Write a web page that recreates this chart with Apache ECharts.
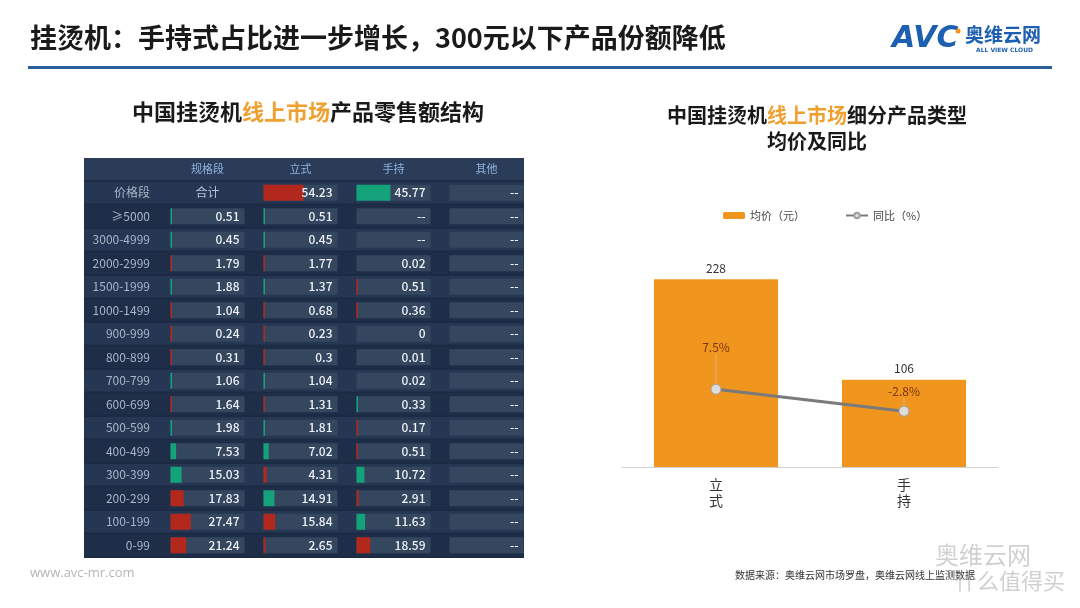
<!DOCTYPE html>
<html>
<head>
<meta charset="utf-8">
<script src="https://cdn.jsdelivr.net/npm/echarts@6/dist/echarts.min.js"></script>
<style>
  html, body { margin: 0; padding: 0; background: #fff; }
  #main { width: 1080px; height: 608px; }
</style>
</head>
<body>
<div id="main"></div>
<script>
// 左表：价格段 x 产品类型 零售额占比(%)
const rowLabels = ['价格段', '≥5000', '3000-4999', '2000-2999', '1500-1999', '1000-1499', '900-999', '800-899',
  '700-799', '600-699', '500-599', '400-499', '300-399', '200-299', '100-199', '0-99'];
const colLabels = ['规格段', '立式', '手持', '其他'];
const sizeShare = [null, 0.51, 0.45, 1.79, 1.88, 1.04, 0.24, 0.31, 1.06, 1.64, 1.98, 7.53, 15.03, 17.83, 27.47, 21.24];
const standShare = [54.23, 0.51, 0.45, 1.77, 1.37, 0.68, 0.23, 0.3, 1.04, 1.31, 1.81, 7.02, 4.31, 14.91, 15.84, 2.65];
const handShare = [45.77, null, null, 0.02, 0.51, 0.36, 0, 0.01, 0.02, 0.33, 0.17, 0.51, 10.72, 2.91, 11.63, 18.59];
const otherShare = [null, null, null, null, null, null, null, null, null, null, null, null, null, null, null, null];
// g = 上升(绿), r = 下降(红)
const sizeTrend = ['', 'g', 'g', 'r', 'g', 'r', 'r', 'r', 'g', 'r', 'g', 'g', 'g', 'r', 'r', 'r'];
const standTrend = ['r', 'g', 'g', 'r', 'g', 'r', 'r', 'r', 'g', 'r', 'g', 'g', 'r', 'g', 'r', 'r'];
const handTrend = ['g', '', '', '', 'r', 'r', '', '', '', 'g', 'r', 'r', 'g', 'r', 'g', 'r'];

// 右图：细分产品类型均价及同比
const typeNames = ['立式', '手持'];
const avgPrice = [228, 106];
const yoy = [7.5, -2.8];

const cols = [sizeShare, standShare, handShare, otherShare];
const trends = [sizeTrend, standTrend, handTrend, otherShare.map(() => '')];
const cellData = [];
cols.forEach((arr, c) => {
  arr.forEach((v, r) => {
    cellData.push([c, r, v, trends[c][r]]);
  });
});

const myChart = echarts.init(document.getElementById('main'));
const cjk = '"Noto Sans CJK SC", "Noto Sans", sans-serif';

function renderCell(params, api) {
  const item = cellData[params.dataIndex];
  const c = item[0];
  const r = item[1];
  const v = item[2];
  const t = item[3];
  const center = api.coord([c, r]);
  const size = api.size([1, 1]);
  const w = 74;
  const h = size[1] * 0.68;
  const x0 = center[0] - w / 2;
  const y0 = center[1] - h / 2;
  const children = [];
  if (c === 0) {
    // 行底纹
    children.push({
      type: 'rect',
      shape: { x: 84, y: center[1] - size[1] / 2 + 1, width: 440, height: size[1] - 2 },
      style: { fill: r % 2 === 0 ? '#263753' : '#1f2e48' },
      z2: 0
    });
  }
  if (c === 0 && r === 0) {
    children.push({
      type: 'text',
      style: { text: '合计', x: center[0], y: center[1], align: 'center', verticalAlign: 'middle',
        fill: '#b8c3d3', font: '12px ' + cjk },
      z2: 3
    });
    return { type: 'group', children: children };
  }
  children.push({
    type: 'rect',
    shape: { x: x0, y: y0, width: w, height: h },
    style: { fill: '#35465f' },
    z2: 1
  });
  if (v != null && t) {
    const bw = Math.max(1.5, w * v / 100);
    children.push({
      type: 'rect',
      shape: { x: x0, y: y0, width: bw, height: h },
      style: { fill: t === 'g' ? '#14a27a' : '#b3281c' },
      z2: 2
    });
  }
  children.push({
    type: 'text',
    style: { text: v == null ? '--' : String(v), x: x0 + w - 5, y: center[1], align: 'right',
      verticalAlign: 'middle', fill: '#eef2f7', font: '500 12px ' + cjk },
    z2: 3
  });
  return { type: 'group', children: children };
}

const option = {
  animation: false,
  backgroundColor: '#ffffff',
  graphic: [
    { type: 'text', left: 30, top: 24, style: { text: '挂烫机：手持式占比进一步增长，300元以下产品份额降低',
      font: 'bold 27px ' + cjk, fill: '#1a1a1a' } },
    { type: 'rect', shape: { x: 28, y: 66, width: 1024, height: 3 }, style: { fill: '#2c5f9a' } },
    { type: 'text', left: 892, top: 24, style: { text: 'AVC', font: 'italic bold 30px "DejaVu Sans", sans-serif', fill: '#1d5fb0' } },
    { type: 'circle', shape: { cx: 958, cy: 31, r: 2.5 }, style: { fill: '#f0961e' } },
    { type: 'text', left: 965, top: 25, style: { text: '奥维云网', font: 'bold 19px ' + cjk, fill: '#1d5fb0' } },
    { type: 'text', left: 976, top: 47, style: { text: 'ALL VIEW CLOUD', font: 'bold 6px "DejaVu Sans", sans-serif', fill: '#1d5fb0' } },
    {
      type: 'text', x: 308, y: 101, z: 10,
      style: {
        text: '{a|中国挂烫机}{b|线上市场}{a|产品零售额结构}',
        align: 'center',
        rich: {
          a: { font: 'bold 22px ' + cjk, fill: '#1a1a1a' },
          b: { font: 'bold 22px ' + cjk, fill: '#f0a030' }
        }
      }
    },
    {
      type: 'text', x: 817, y: 102,
      style: {
        text: '{a|中国挂烫机}{b|线上市场}{a|细分产品类型}\n{c|均价及同比}',
        align: 'center',
        rich: {
          a: { font: 'bold 20px ' + cjk, fill: '#1a1a1a', lineHeight: 26, align: 'center' },
          b: { font: 'bold 20px ' + cjk, fill: '#f0a030', lineHeight: 26, align: 'center' },
          c: { font: 'bold 20px ' + cjk, fill: '#1a1a1a', lineHeight: 26, align: 'center' }
        }
      }
    },
    { type: 'rect', z: -10, shape: { x: 84, y: 158, width: 440, height: 400 }, style: { fill: '#1c2a43' } },
    { type: 'rect', z: -9, shape: { x: 84, y: 158, width: 440, height: 22 }, style: { fill: '#2b3c59' } },
    { type: 'text', left: 30, top: 567, style: { text: 'www.avc-mr.com', font: '13px "Open Sans", sans-serif', fill: '#b5b5b5' } },
    { type: 'text', left: 735, top: 570, style: { text: '数据来源：奥维云网市场罗盘，奥维云网线上监测数据', font: '10px ' + cjk, fill: '#333' } },
    { type: 'text', left: 935, top: 543, z: 20, style: { text: '奥维云网', font: '24px ' + cjk, fill: 'rgba(150,150,150,0.45)' } },
    { type: 'text', left: 955, top: 570, z: 20, style: { text: '什么值得买', font: '22px ' + cjk, fill: 'rgba(150,150,150,0.45)' } }
  ],
  legend: {
    data: ['均价（元）', '同比（%）'],
    top: 205,
    left: 718,
    itemGap: 40,
    itemWidth: 22,
    itemHeight: 7,
    textStyle: { fontFamily: cjk, fontSize: 11, color: '#444' }
  },
  grid: [
    { left: 161, top: 181, width: 372, height: 376 },
    { left: 622, top: 220, width: 376, height: 247 }
  ],
  xAxis: [
    {
      type: 'category', gridIndex: 0, data: colLabels, position: 'top',
      axisLine: { show: false }, axisTick: { show: false },
      axisLabel: { color: '#8fb3e0', fontSize: 11, fontFamily: cjk, margin: 7 }
    },
    {
      type: 'category', gridIndex: 1, data: typeNames,
      axisLine: { lineStyle: { color: '#d0d0d0' } }, axisTick: { show: false },
      axisLabel: { color: '#333', fontSize: 14, fontFamily: cjk, lineHeight: 16, margin: 10,
        formatter: (v) => v.split('').join('\n') }
    }
  ],
  yAxis: [
    {
      type: 'category', gridIndex: 0, data: rowLabels, inverse: true, z: 10,
      axisLine: { show: false }, axisTick: { show: false },
      axisLabel: { color: '#a9b5c8', fontSize: 12, fontFamily: cjk, margin: 11 }
    },
    { type: 'value', gridIndex: 1, min: 0, max: 300, show: false },
    { type: 'value', gridIndex: 1, min: -29, max: 87, show: false }
  ],
  series: [
    {
      type: 'custom',
      xAxisIndex: 0,
      yAxisIndex: 0,
      renderItem: renderCell,
      data: cellData,
      encode: { x: 0, y: 1 },
      silent: true
    },
    {
      name: '均价（元）',
      type: 'bar',
      xAxisIndex: 1,
      yAxisIndex: 1,
      data: avgPrice,
      barWidth: '66%',
      itemStyle: { color: '#f0961e' },
      label: { show: true, position: 'top', distance: 5, color: '#333', fontSize: 12, fontFamily: cjk }
    },
    {
      name: '同比（%）',
      type: 'line',
      xAxisIndex: 1,
      yAxisIndex: 2,
      data: yoy,
      symbol: 'circle',
      symbolSize: 10,
      lineStyle: { color: '#7a7a7a', width: 3 },
      itemStyle: { color: '#dcdcdc', borderColor: '#a0a0a0', borderWidth: 1 },
      label: { show: true, position: 'top', distance: 8, color: '#7a3510', fontSize: 12,
        fontFamily: cjk, formatter: (p) => p.value + '%' },
      labelLine: { show: true, lineStyle: { color: '#d9b07a', width: 1 } },
      labelLayout: (p) => (p.dataIndex === 0 ? { dy: -22 } : {}),
      z: 5
    }
  ]
};

myChart.setOption(option);
</script>
</body>
</html>
